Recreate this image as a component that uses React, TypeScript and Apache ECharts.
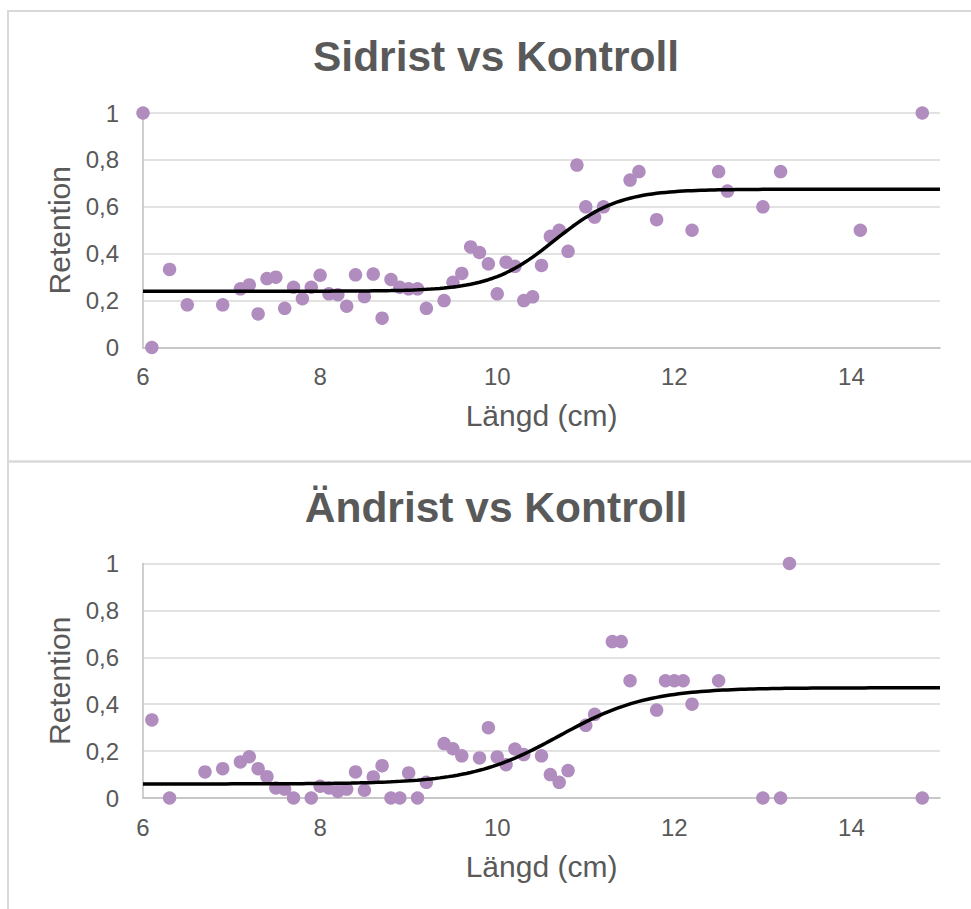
import { useEffect, useRef } from "react";
import * as echarts from "echarts";

// Sidrist vs Kontroll: fish length (cm) and retention share per length class
const sidristLength = [
  6.0, 6.1, 6.3, 6.5, 6.9, 7.1, 7.2, 7.3, 7.4, 7.5, 7.6, 7.7, 7.8, 7.9, 8.0, 8.1,
  8.2, 8.3, 8.4, 8.5, 8.6, 8.7, 8.8, 8.9, 9.0, 9.1, 9.2, 9.4, 9.5, 9.6, 9.7, 9.8,
  9.9, 10.0, 10.1, 10.2, 10.3, 10.4, 10.5, 10.6, 10.7, 10.8, 10.9, 11.0, 11.1, 11.2,
  11.5, 11.6, 11.8, 12.2, 12.5, 12.6, 13.0, 13.2, 14.1, 14.8,
];
const sidristRetention = [
  1.0, 0.0, 0.333, 0.182, 0.182, 0.25, 0.267, 0.143, 0.294, 0.3, 0.167, 0.257, 0.208, 0.257, 0.308, 0.229,
  0.225, 0.176, 0.31, 0.217, 0.313, 0.125, 0.29, 0.257, 0.25, 0.25, 0.167, 0.2, 0.278, 0.316, 0.429, 0.405,
  0.357, 0.229, 0.364, 0.346, 0.2, 0.216, 0.35, 0.474, 0.5, 0.41, 0.778, 0.6, 0.556, 0.6,
  0.714, 0.75, 0.545, 0.5, 0.75, 0.667, 0.6, 0.75, 0.5, 1.0,
];

// Ändrist vs Kontroll
const andristLength = [
  6.1, 6.3, 6.7, 6.9, 7.1, 7.2, 7.3, 7.4, 7.5, 7.6, 7.7, 7.9, 8.0, 8.1, 8.2, 8.3,
  8.4, 8.5, 8.6, 8.7, 8.8, 8.9, 9.0, 9.1, 9.2, 9.4, 9.5, 9.6, 9.8, 9.9, 10.0, 10.1,
  10.2, 10.3, 10.5, 10.6, 10.7, 10.8, 11.0, 11.1, 11.3, 11.4, 11.5, 11.8, 11.9, 12.0,
  12.1, 12.2, 12.5, 13.0, 13.2, 13.3, 14.8,
];
const andristRetention = [
  0.333, 0.0, 0.111, 0.125, 0.154, 0.176, 0.125, 0.091, 0.043, 0.038, 0.0, 0.0, 0.05, 0.043, 0.028, 0.038,
  0.111, 0.033, 0.09, 0.138, 0.0, 0.0, 0.107, 0.0, 0.067, 0.232, 0.21, 0.18, 0.171, 0.3, 0.175, 0.142,
  0.209, 0.185, 0.18, 0.1, 0.067, 0.117, 0.31, 0.357, 0.667, 0.667, 0.5, 0.375, 0.5, 0.5,
  0.5, 0.4, 0.5, 0.0, 0.0, 1.0, 0.0,
];

// Fitted logistic retention curves: low + (high - low) / (1 + exp(-slope * (L - L50)))
const sidristFitLow = 0.24;
const sidristFitHigh = 0.675;
const sidristFitL50 = 10.65;
const sidristFitSlope = 2.75;

const andristFitLow = 0.06;
const andristFitHigh = 0.47;
const andristFitL50 = 10.7;
const andristFitSlope = 2.0;

const xMin = 6;
const xMax = 15;
const xStep = 2;
const yMin = 0;
const yMax = 1;
const yStep = 0.2;

const chartTitles = ["Sidrist vs Kontroll", "Ändrist vs Kontroll"];
const xAxisTitle = "Längd (cm)";
const yAxisTitle = "Retention";

const FONT = "'Liberation Sans', Arial, sans-serif";
const TEXT_GREY = "#595959";
const GRID_GREY = "#d9d9d9";
const AXIS_GREY = "#bfbfbf";
const DOT_PURPLE = "#b18cbf";

function logisticCurve(low: number, high: number, l50: number, slope: number) {
  const pts: [number, number][] = [];
  const n = 180;
  for (let i = 0; i <= n; i++) {
    const L = xMin + ((xMax - xMin) * i) / n;
    pts.push([L, low + (high - low) / (1 + Math.exp(-slope * (L - l50)))]);
  }
  return pts;
}

function pairs(xs: number[], ys: number[]) {
  return xs.map((x, i) => [x, ys[i]]);
}

export default function App() {
  const ref = useRef<HTMLDivElement>(null);

  useEffect(() => {
    if (!ref.current) return;
    const chart = echarts.init(ref.current, undefined, { renderer: "svg" });

    const panelOffset = 450.5;
    const gridTops = [113, 113 + panelOffset];
    const plotHeight = 234.5;
    const plotLeft = 143;
    const plotRight = 31;

    const xAxisFor = (gridIndex: number) => ({
      type: "value",
      gridIndex,
      min: xMin,
      max: xMax,
      interval: xStep,
      name: xAxisTitle,
      nameLocation: "middle",
      nameGap: 53,
      nameTextStyle: { color: TEXT_GREY, fontSize: 30, fontFamily: FONT },
      axisLine: { show: true, onZero: false, lineStyle: { color: AXIS_GREY, width: 1.5 } },
      axisTick: { show: false },
      axisLabel: {
        color: TEXT_GREY,
        fontSize: 24,
        fontFamily: FONT,
        margin: 17,
        showMaxLabel: false,
      },
      splitLine: { show: false },
    });

    const yAxisFor = (gridIndex: number) => ({
      type: "value",
      gridIndex,
      min: yMin,
      max: yMax,
      interval: yStep,
      name: yAxisTitle,
      nameLocation: "middle",
      nameGap: 68,
      nameRotate: 90,
      nameTextStyle: { color: TEXT_GREY, fontSize: 30, fontFamily: FONT },
      axisLine: { show: true, lineStyle: { color: AXIS_GREY, width: 1.5 } },
      axisTick: { show: false },
      axisLabel: {
        color: TEXT_GREY,
        fontSize: 24,
        fontFamily: FONT,
        margin: 24,
        formatter: (v: number) => String(+v.toFixed(1)).replace(".", ","),
      },
      splitLine: { show: true, lineStyle: { color: GRID_GREY, width: 1.5 } },
    });

    const scatterFor = (idx: number, xs: number[], ys: number[]) => ({
      type: "scatter",
      xAxisIndex: idx,
      yAxisIndex: idx,
      data: pairs(xs, ys),
      symbol: "circle",
      symbolSize: 13.5,
      itemStyle: { color: DOT_PURPLE, opacity: 1 },
      clip: false,
      z: 2,
    });

    const curveFor = (idx: number, data: [number, number][]) => ({
      type: "line",
      xAxisIndex: idx,
      yAxisIndex: idx,
      data,
      showSymbol: false,
      smooth: false,
      lineStyle: { color: "#000000", width: 3.5 },
      z: 3,
    });

    chart.setOption({
      animation: false,
      backgroundColor: "#ffffff",
      title: chartTitles.map((text, i) => ({
        text,
        left: 491,
        textAlign: "center",
        top: 30 + i * panelOffset,
        textStyle: {
          color: TEXT_GREY,
          fontSize: 42.5,
          fontWeight: "bold",
          fontFamily: FONT,
        },
      })),
      grid: gridTops.map((top) => ({
        left: plotLeft,
        right: plotRight,
        top,
        height: plotHeight,
        containLabel: false,
      })),
      xAxis: [xAxisFor(0), xAxisFor(1)],
      yAxis: [yAxisFor(0), yAxisFor(1)],
      series: [
        scatterFor(0, sidristLength, sidristRetention),
        curveFor(0, logisticCurve(sidristFitLow, sidristFitHigh, sidristFitL50, sidristFitSlope)),
        scatterFor(1, andristLength, andristRetention),
        curveFor(1, logisticCurve(andristFitLow, andristFitHigh, andristFitL50, andristFitSlope)),
      ],
      graphic: [
        {
          type: "rect",
          shape: { x: 8, y: 11, width: 1000, height: 450.5 },
          style: { fill: "none", stroke: GRID_GREY, lineWidth: 2 },
          silent: true,
        },
        {
          type: "rect",
          shape: { x: 8, y: 461.5, width: 1000, height: 500 },
          style: { fill: "none", stroke: GRID_GREY, lineWidth: 2 },
          silent: true,
        },
      ],
    });

    return () => chart.dispose();
  }, []);

  return (
    <div
      ref={ref}
      style={{ position: "fixed", left: 0, top: 0, width: 971, height: 909 }}
    />
  );
}
